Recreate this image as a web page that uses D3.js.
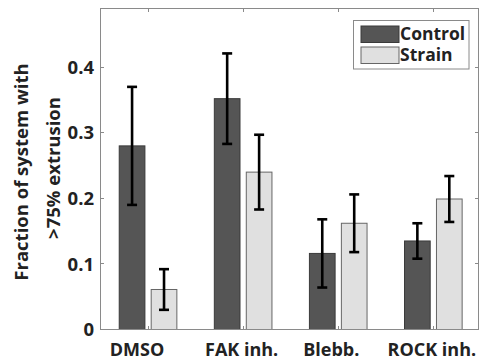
<!DOCTYPE html>
<html>
<head>
<meta charset="utf-8">
<script src="https://cdn.jsdelivr.net/npm/d3@7"></script>
<style>
  html, body { margin: 0; padding: 0; background: #fff; }
  svg { display: block; }
  text { font-family: "Open Sans", "DejaVu Sans", sans-serif; font-weight: bold; fill: #222; }
</style>
</head>
<body>
<svg id="chart" width="481" height="360"></svg>
<script>
// Treatments along the x axis
const categories = ["DMSO", "FAK inh.", "Blebb.", "ROCK inh."];
// Series names (legend order)
const seriesNames = ["Control", "Strain"];
// Mean fraction of systems with >75% extrusion, and error half-widths
const controlMeans = [0.280, 0.352, 0.116, 0.135];
const controlErr   = [0.090, 0.069, 0.052, 0.027];
const strainMeans  = [0.061, 0.240, 0.162, 0.199];
const strainErr    = [0.031, 0.057, 0.044, 0.035];
// Y tick values and labels
const yTicks = [0, 0.1, 0.2, 0.3, 0.4];
const yTickLabels = ["0", "0.1", "0.2", "0.3", "0.4"];

const svg = d3.select("#chart");

// Plot box
const plotLeft = 100.5, plotRight = 478.5, plotTop = 8.5, plotBottom = 329.5;
const x = d3.scaleLinear().domain([0.5, 4.475]).range([plotLeft, plotRight]);
const y = d3.scaleLinear().domain([0, 0.4895]).range([plotBottom, plotTop]);

const fills = ["#555555", "#e0e0e0"];
const edges = ["#3a3a3a", "#666666"];
const barOffset = [-0.168, 0.168];
const barWidth = 0.27;

const series = [
  { name: seriesNames[0], means: controlMeans, err: controlErr },
  { name: seriesNames[1], means: strainMeans, err: strainErr }
];

// Bars
series.forEach((s, si) => {
  const g = svg.append("g");
  g.selectAll("rect")
    .data(s.means)
    .join("rect")
    .attr("x", (d, i) => x(i + 1 + barOffset[si] - barWidth / 2))
    .attr("width", x(barWidth) - x(0))
    .attr("y", d => y(d))
    .attr("height", d => y(0) - y(d))
    .attr("fill", fills[si])
    .attr("stroke", edges[si])
    .attr("stroke-width", 1);
});

// Error bars
series.forEach((s, si) => {
  const g = svg.append("g").attr("stroke", "#000").attr("stroke-width", 2.6);
  s.means.forEach((m, i) => {
    const cx = x(i + 1 + barOffset[si]);
    const hi = y(m + s.err[i]), lo = y(m - s.err[i]);
    g.append("line").attr("x1", cx).attr("x2", cx).attr("y1", hi).attr("y2", lo);
    g.append("line").attr("x1", cx - 5).attr("x2", cx + 5).attr("y1", hi).attr("y2", hi);
    g.append("line").attr("x1", cx - 5).attr("x2", cx + 5).attr("y1", lo).attr("y2", lo);
  });
});

// Axis box with inward ticks on all sides
const axisColor = "#8a8a8a";
const tickLen = 3.5;
const box = svg.append("g");
box.append("rect")
  .attr("x", plotLeft).attr("y", plotTop)
  .attr("width", plotRight - plotLeft).attr("height", plotBottom - plotTop)
  .attr("fill", "none").attr("stroke", axisColor).attr("stroke-width", 1);

const xTickVals = categories.map((c, i) => i + 1);
xTickVals.forEach(v => {
  const px = Math.round(x(v)) + 0.5;
  box.append("line").attr("x1", px).attr("x2", px).attr("y1", plotBottom).attr("y2", plotBottom - tickLen)
    .attr("stroke", axisColor);
  box.append("line").attr("x1", px).attr("x2", px).attr("y1", plotTop).attr("y2", plotTop + tickLen)
    .attr("stroke", axisColor);
});
yTicks.forEach(v => {
  const py = Math.round(y(v) - 0.5) + 0.5;
  box.append("line").attr("x1", plotLeft).attr("x2", plotLeft + tickLen).attr("y1", py).attr("y2", py)
    .attr("stroke", axisColor);
  box.append("line").attr("x1", plotRight).attr("x2", plotRight - tickLen).attr("y1", py).attr("y2", py)
    .attr("stroke", axisColor);
});

// Y tick labels
svg.append("g").selectAll("text")
  .data(yTicks)
  .join("text")
  .attr("x", 94)
  .attr("y", d => y(d))
  .attr("dy", "0.36em")
  .attr("text-anchor", "end")
  .attr("font-size", 18.5)
  .text((d, i) => yTickLabels[i]);

// X tick labels (shifted slightly to the left of each group)
const xLabelShift = [-11, -1.5, -7, -1.5];
svg.append("g").selectAll("text")
  .data(categories)
  .join("text")
  .attr("x", (d, i) => x(i + 1) + xLabelShift[i])
  .attr("y", 356)
  .attr("text-anchor", "middle")
  .attr("font-size", 18)
  .text(d => d);

// Y axis label (two lines)
const yLab = svg.append("g").attr("text-anchor", "middle").attr("font-size", 18.5);
yLab.append("text")
  .attr("transform", "translate(27.5,172) rotate(-90)")
  .text("Fraction of system with");
yLab.append("text")
  .attr("transform", "translate(60,168) rotate(-90)")
  .text(">75% extrusion");

// Legend
const leg = svg.append("g");
leg.append("rect")
  .attr("x", 353.5).attr("y", 20.5).attr("width", 115.5).attr("height", 48.5)
  .attr("fill", "#fff").attr("stroke", axisColor).attr("stroke-width", 1);
series.forEach((s, si) => {
  const y0 = 26 + si * 21;
  leg.append("rect")
    .attr("x", 361).attr("y", y0).attr("width", 38).attr("height", 16.5)
    .attr("fill", fills[si]).attr("stroke", edges[si]).attr("stroke-width", 1);
  leg.append("text")
    .attr("x", 400).attr("y", y0 + 14.2)
    .attr("font-size", 17.5)
    .text(s.name);
});
</script>
</body>
</html>
